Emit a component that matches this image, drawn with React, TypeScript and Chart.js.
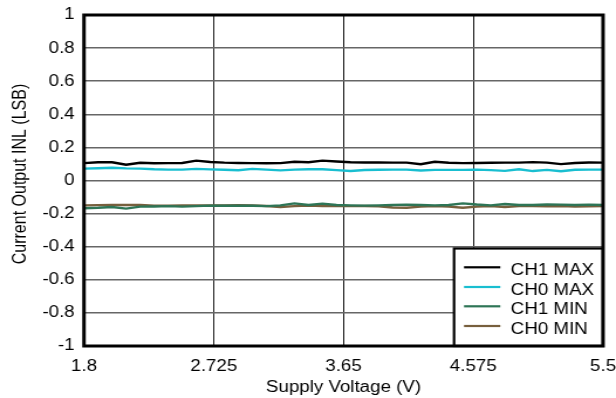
import React, { useEffect, useRef } from "react";
import { Chart, registerables } from "chart.js";

Chart.register(...registerables);

// ---- data ----
const supplyVoltage = [
  1.8, 1.9, 2.0, 2.1, 2.2, 2.3, 2.4, 2.5, 2.6, 2.7,
  2.8, 2.9, 3.0, 3.1, 3.2, 3.3, 3.4, 3.5, 3.6, 3.7,
  3.8, 3.9, 4.0, 4.1, 4.2, 4.3, 4.4, 4.5, 4.6, 4.7,
  4.8, 4.9, 5.0, 5.1, 5.2, 5.3, 5.4, 5.5,
];
const ch1Max = [
  0.105, 0.11, 0.11, 0.095, 0.107, 0.104, 0.105, 0.106, 0.12, 0.112,
  0.108, 0.106, 0.105, 0.104, 0.105, 0.113, 0.11, 0.12, 0.115, 0.11,
  0.109, 0.109, 0.108, 0.108, 0.098, 0.113, 0.107, 0.105, 0.106, 0.107,
  0.108, 0.108, 0.111, 0.108, 0.099, 0.106, 0.109, 0.108,
];
const ch0Max = [
  0.072, 0.074, 0.077, 0.073, 0.072, 0.068, 0.066, 0.066, 0.07, 0.067,
  0.065, 0.062, 0.07, 0.066, 0.061, 0.066, 0.068, 0.068, 0.063, 0.057,
  0.063, 0.065, 0.066, 0.066, 0.06, 0.064, 0.064, 0.064, 0.066, 0.063,
  0.058, 0.068, 0.057, 0.064, 0.056, 0.065, 0.066, 0.066,
];
const ch1Min = [
  -0.168, -0.165, -0.16, -0.17, -0.158, -0.157, -0.155, -0.158, -0.155, -0.152,
  -0.153, -0.152, -0.153, -0.155, -0.15, -0.138, -0.148, -0.14, -0.148, -0.15,
  -0.152, -0.15, -0.148, -0.146, -0.148, -0.15, -0.148, -0.138, -0.145, -0.15,
  -0.142, -0.148, -0.148, -0.145, -0.146, -0.148, -0.146, -0.148,
];
const ch0Min = [
  -0.15, -0.149, -0.148, -0.147, -0.148, -0.152, -0.153, -0.151, -0.15, -0.15,
  -0.15, -0.149, -0.15, -0.154, -0.16, -0.155, -0.152, -0.155, -0.153, -0.155,
  -0.154, -0.156, -0.163, -0.165, -0.158, -0.155, -0.158, -0.165, -0.158, -0.155,
  -0.16, -0.155, -0.154, -0.156, -0.155, -0.157, -0.156, -0.155,
];
const seriesLabels = ["CH1 MAX", "CH0 MAX", "CH1 MIN", "CH0 MIN"];
const seriesColors = ["#000000", "#19BED0", "#2E7556", "#775F3D"];
const xTickValues = [1.8, 2.725, 3.65, 4.575, 5.5];
const xTickLabels = ["1.8", "2.725", "3.65", "4.575", "5.5"];
const yTickValues = [-1, -0.8, -0.6, -0.4, -0.2, 0, 0.2, 0.4, 0.6, 0.8, 1];
const yTickLabels = ["-1", "-0.8", "-0.6", "-0.4", "-0.2", "0", "0.2", "0.4", "0.6", "0.8", "1"];
const xTitle = "Supply Voltage (V)";
const yTitle = "Current Output INL (LSB)";

const FONT = "'Liberation Sans', Arial, sans-serif";
const CANVAS_W = 526;
const CANVAS_H = 398;

const overlayPlugin = {
  id: "overlay",
  afterDatasetsDraw(chart: any) {
    const { ctx, chartArea } = chart;
    const { left, top, right, bottom } = chartArea;
    ctx.save();
    // legend box
    const bx = right - 127.2;
    const by = 248.5;
    ctx.fillStyle = "#ffffff";
    ctx.fillRect(bx, by, right - bx, bottom - by);
    ctx.strokeStyle = "#000000";
    ctx.lineWidth = 2.2;
    ctx.strokeRect(bx, by, right - bx, bottom - by);
    const rows = [18.8, 38.5, 57.8, 77.5];
    ctx.font = `16px ${FONT}`;
    ctx.textBaseline = "alphabetic";
    ctx.textAlign = "left";
    chart.data.datasets.forEach((ds: any, i: number) => {
      const yy = by + rows[i];
      ctx.strokeStyle = ds.borderColor;
      ctx.lineWidth = 2.2;
      ctx.beginPath();
      ctx.moveTo(bx + 8.5, yy);
      ctx.lineTo(bx + 39.5, yy);
      ctx.stroke();
      ctx.fillStyle = "#000000";
      ctx.fillText(ds.label, bx + 48.4, yy + 7.7);
    });
    // frame
    ctx.strokeStyle = "#000000";
    ctx.lineWidth = 3;
    ctx.strokeRect(left, top, right - left, bottom - top);
    // y title
    ctx.translate(17.8, 174);
    ctx.rotate(-Math.PI / 2);
    ctx.textAlign = "center";
    ctx.textBaseline = "middle";
    ctx.fillStyle = "#000000";
    ctx.font = `16px ${FONT}`;
    ctx.fillText(yTitle, 0, 0);
    ctx.restore();
  },
};

export default function App() {
  const ref = useRef<HTMLCanvasElement | null>(null);
  useEffect(() => {
    if (!ref.current) return;
    const series = [ch1Max, ch0Max, ch1Min, ch0Min];
    const chart = new Chart(ref.current, {
      type: "line",
      data: {
        datasets: series.map((s, i) => ({
          label: seriesLabels[i],
          data: s.map((y, j) => ({ x: supplyVoltage[j], y })),
          borderColor: seriesColors[i],
          backgroundColor: seriesColors[i],
          borderWidth: 2.4,
          pointRadius: 0,
          tension: 0,
        })),
      },
      options: {
        responsive: false,
        animation: false,
        events: [],
        layout: { padding: { top: 15, right: 11.08, bottom: 0, left: 0 } },
        plugins: {
          legend: { display: false },
          tooltip: { enabled: false },
          title: { display: false },
        },
        scales: {
          x: {
            type: "linear",
            min: 1.8,
            max: 5.5,
            afterBuildTicks: (scale: any) => {
              scale.ticks = xTickValues.map((v) => ({ value: v }));
            },
            afterFit: (scale: any) => {
              scale.height = 52;
              scale.paddingLeft = 0;
              scale.paddingRight = 0;
            },
            ticks: {
              color: "#000",
              font: { family: FONT, size: 16 },
              padding: 11,
              maxRotation: 0,
              autoSkip: false,
              callback: (_v: any, i: number) => xTickLabels[i],
            },
            grid: { color: "#1a1a1a", lineWidth: 1, drawTicks: false },
            border: { display: false },
            title: {
              display: true,
              text: xTitle,
              color: "#000",
              font: { family: FONT, size: 16 },
              padding: { top: 0, bottom: 1 },
            },
          },
          y: {
            type: "linear",
            min: -1,
            max: 1,
            afterBuildTicks: (scale: any) => {
              scale.ticks = yTickValues.map((v) => ({ value: v }));
            },
            afterFit: (scale: any) => {
              scale.width = 71.73;
              scale.paddingTop = 0;
              scale.paddingBottom = 0;
            },
            ticks: {
              color: "#000",
              font: { family: FONT, size: 16 },
              padding: 8,
              autoSkip: false,
              callback: (_v: any, i: number) => yTickLabels[i],
            },
            grid: { color: "#666666", lineWidth: 1.4, drawTicks: false },
            border: { display: false },
          },
        },
      },
      plugins: [overlayPlugin],
    } as any);
    return () => chart.destroy();
  }, []);

  return (
    <div style={{ position: "absolute", left: 0, top: 0, width: 616, height: 398, background: "#fff" }}>
      <canvas
        ref={ref}
        width={CANVAS_W}
        height={CANVAS_H}
        style={{ width: "616px", height: "398px", display: "block" }}
      />
    </div>
  );
}
